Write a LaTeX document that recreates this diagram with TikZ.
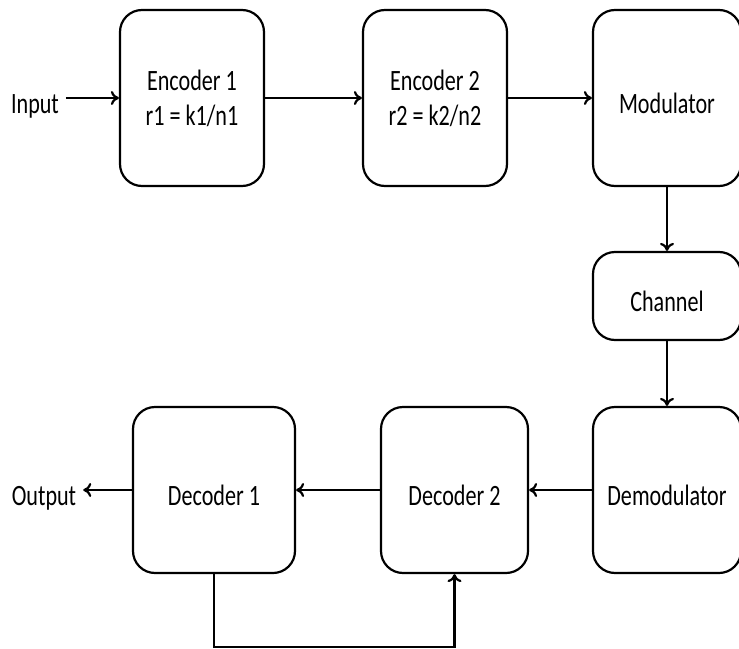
\documentclass[tikz,border=0pt]{standalone}
\usepackage{fontspec}
\setmainfont[FakeStretch=0.75]{Carlito}
\usetikzlibrary{arrows.meta}
\tikzset{
	block/.style = {draw, line width=1.1pt, rounded corners=11pt,
		font=\fontsize{14.75}{17.5}\selectfont},
	oneline/.style = {text height=15pt, text depth=0pt},
	label/.style = {font=\fontsize{14.75}{17.5}\selectfont, text height=15pt, text depth=0pt},
	link/.style = {-{To[length=4pt, width=7pt]}, line width=1.1pt}
}

\begin{document}
\begin{tikzpicture}[x=0.5pt, y=-0.5pt]
		\useasboundingbox (0, 0) rectangle (739, 648);
		\node [block, align=center, minimum width=72pt, minimum height=88pt] (enc1) at (192, 98) {Encoder 1\\r1 = k1/n1};
		\node [block, align=center, minimum width=72pt, minimum height=88pt] (enc2) at (435, 98) {Encoder 2\\r2 = k2/n2};
		\node [block, oneline, minimum width=74pt, minimum height=88pt] (mod) at (667, 98) {Modulator};
		\node [block, oneline, minimum width=74pt, minimum height=44pt] (chan) at (667, 296) {Channel};
		\node [block, oneline, minimum width=74pt, minimum height=83pt] (demod) at (667, 490) {Demodulator};
		\node [block, oneline, minimum width=73.5pt, minimum height=83pt] (dec2) at (454.5, 490) {Decoder 2};
		\node [block, oneline, minimum width=81pt, minimum height=83pt] (dec1) at (214, 490) {Decoder 1};
		\node [label] (in) at (35, 98) {Input};
		\node [label] (out) at (44, 490) {Output};
		\coordinate (fb) at (214, 647);
		\draw [link] (in) -- (enc1);
		\draw [link] (enc1) -- (enc2);
		\draw [link] (enc2) -- (mod);
		\draw [link] (mod) -- (chan);
		\draw [link] (chan) -- (demod);
		\draw [link] (demod) -- (dec2);
		\draw [link] (dec2) -- (dec1);
		\draw [link] (dec1) -- (out);
		\draw [link] (dec1.south) -- (fb) -| (dec2.south);
	\end{tikzpicture}
\end{document}
